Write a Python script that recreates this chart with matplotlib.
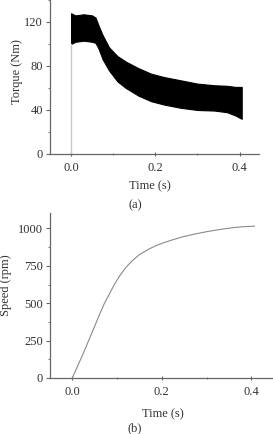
import matplotlib
matplotlib.use("Agg")
import matplotlib.pyplot as plt
from matplotlib.ticker import MultipleLocator

# ---- data ----
torque_t = [0.0, 0.01, 0.03, 0.05, 0.058, 0.065, 0.075, 0.09, 0.11, 0.13, 0.16,
            0.19, 0.22, 0.26, 0.30, 0.34, 0.37, 0.39, 0.405]
torque_upper = [128, 126, 127, 126, 124, 117, 108, 97, 89, 84, 78,
                73, 70, 67, 64, 62.5, 62, 61, 61]
torque_lower = [100, 102, 103, 102, 101, 96, 86, 76, 66, 60, 53,
                48, 45, 42, 40, 39.5, 38, 35, 32]
step_t = [0.0, 0.0]
step_torque = [0, 100]

speed_t = [0, 0.024, 0.045, 0.061, 0.072, 0.083, 0.094, 0.106, 0.12, 0.135, 0.15,
           0.17, 0.185, 0.2, 0.22, 0.247, 0.27, 0.3, 0.33, 0.359, 0.38, 0.407]
speed_rpm = [0, 160, 310, 425, 500, 562, 625, 683, 740, 787, 825,
             860, 882, 900, 920, 944, 960, 978, 993, 1005, 1011, 1015]

x_ticks = [0.0, 0.2, 0.4]
x_ticklabels = ["0.0", "0.2", "0.4"]
torque_ticks = [0, 40, 80, 120]
speed_ticks = [0, 250, 500, 750, 1000]

plt.rcParams['font.family'] = ['Liberation Serif', 'DejaVu Serif']
TXT = '#333333'
SP = '#666666'
FS = 9

W, H = 273, 434
fig = plt.figure(figsize=(W / 100, H / 100), dpi=100)


def style(ax, fs):
    for s in ['top', 'right']:
        ax.spines[s].set_visible(False)
    for s in ['left', 'bottom']:
        ax.spines[s].set_color(SP)
        ax.spines[s].set_linewidth(0.9)
    ax.tick_params(which='major', direction='out', length=3, width=0.8,
                   colors=SP, labelcolor=TXT, labelsize=fs, pad=2)
    ax.tick_params(which='minor', direction='out', length=1.8, width=0.6, colors=SP)
    ax.tick_params(axis='x', which='both', direction='inout')
    ax.tick_params(axis='x', which='major', pad=4)
    ax.xaxis.set_minor_locator(MultipleLocator(0.1))


# ---- (a) torque ----
ax1 = fig.add_axes([50 / W, (H - 154) / H, 209 / W, 154 / H])
ax1.plot(step_t, step_torque, color='#c8c8c8', lw=1.0)
ax1.fill_between(torque_t, torque_lower, torque_upper, color='black', lw=0.8,
                 edgecolor='black')
ax1.set_xlim(-0.05, 0.446)
ax1.set_ylim(0, 140)
ax1.set_xticks(x_ticks)
ax1.set_xticklabels(x_ticklabels)
ax1.set_yticks(torque_ticks)
ax1.yaxis.set_minor_locator(MultipleLocator(20))
style(ax1, FS)
fig.text(17 / W, 1 - 72 / H, "Torque (Nm)", rotation=90, ha='center', va='center',
         fontsize=FS, color=TXT)
fig.text(150 / W, 1 - 186 / H, "Time (s)", ha='center', va='center', fontsize=FS, color=TXT)
fig.text(135 / W, 1 - 205 / H, "(a)", ha='center', va='center', fontsize=FS, color=TXT)

# ---- (b) speed ----
ax2 = fig.add_axes([50 / W, (H - 378) / H, 230 / W, 165 / H])
ax2.plot(speed_t, speed_rpm, color='#8a8a8a', lw=0.8)
ax2.set_xlim(-0.0497, 0.464)
ax2.set_ylim(0, 1103)
ax2.set_xticks(x_ticks)
ax2.set_xticklabels(x_ticklabels)
ax2.set_yticks(speed_ticks)
ax2.yaxis.set_minor_locator(MultipleLocator(125))
style(ax2, FS)
fig.text(6 / W, 1 - 285 / H, "Speed (rpm)", rotation=90, ha='center', va='center',
         fontsize=FS, color=TXT)
fig.text(163 / W, 1 - 414 / H, "Time (s)", ha='center', va='center', fontsize=FS, color=TXT)
fig.text(135 / W, 1 - 428 / H, "(b)", ha='center', va='center', fontsize=FS, color=TXT)

fig.savefig("out.png", dpi=100)
